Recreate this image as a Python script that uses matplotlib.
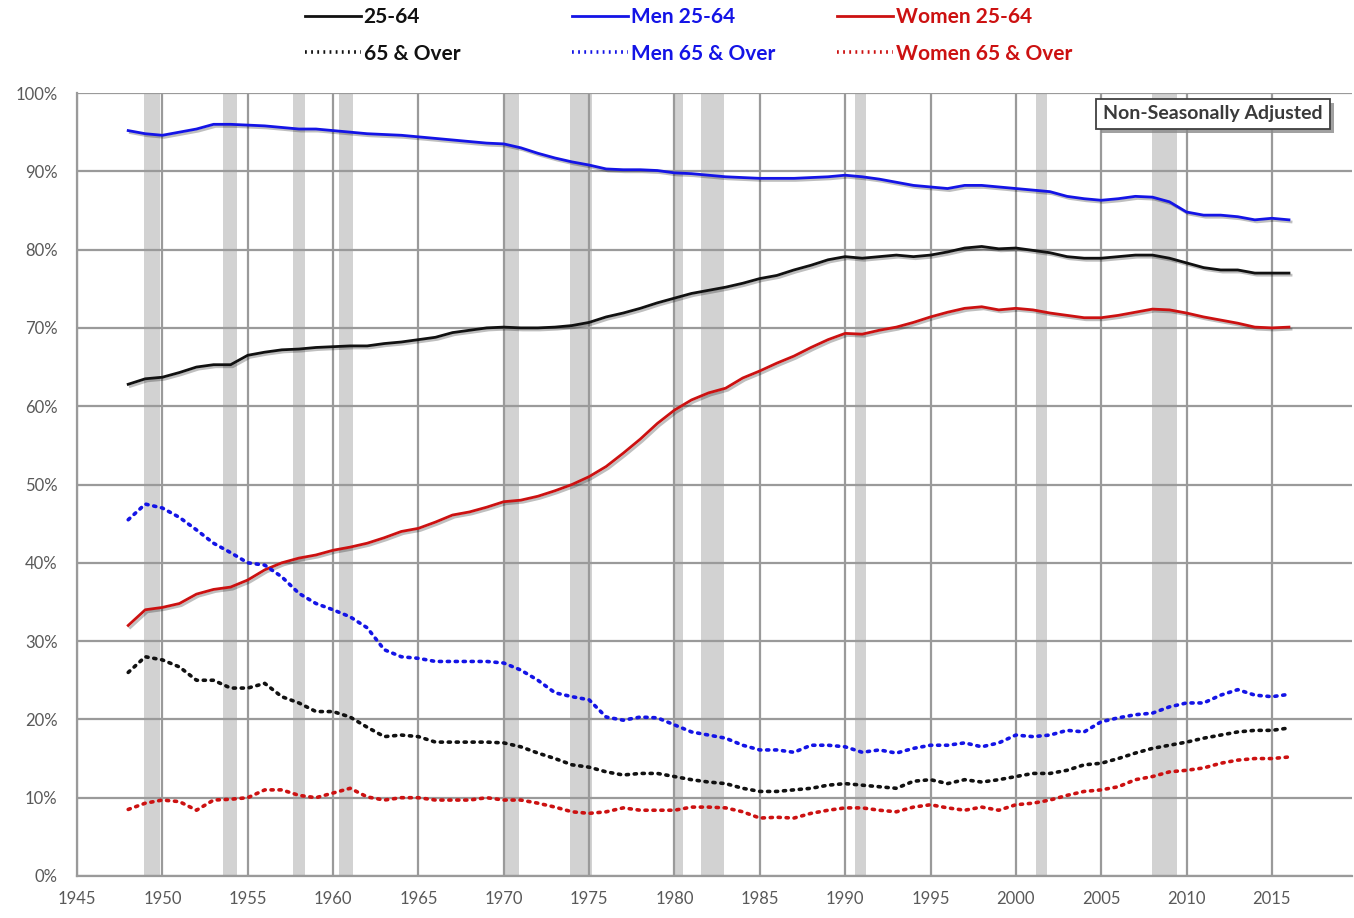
import matplotlib
matplotlib.use("Agg")
import matplotlib.pyplot as plt
import matplotlib.patheffects as pe
from matplotlib.lines import Line2D

plt.rcParams['font.family'] = ['Lato', 'DejaVu Sans']

years = list(range(1948, 2017))

total_25_64 = [62.8, 63.5, 63.7, 64.3, 65.0, 65.3, 65.3, 66.5, 66.9, 67.2,
               67.3, 67.5, 67.6, 67.7, 67.7, 68.0, 68.2, 68.5, 68.8, 69.4,
               69.7, 70.0, 70.1, 70.0, 70.0, 70.1, 70.3, 70.7, 71.4, 71.9,
               72.5, 73.2, 73.8, 74.4, 74.8, 75.2, 75.7, 76.3, 76.7, 77.4,
               78.0, 78.7, 79.1, 78.9, 79.1, 79.3, 79.1, 79.3, 79.7, 80.2,
               80.4, 80.1, 80.2, 79.9, 79.6, 79.1, 78.9, 78.9, 79.1, 79.3,
               79.3, 78.9, 78.3, 77.7, 77.4, 77.4, 77.0, 77.0, 77.0]

men_25_64 = [95.2, 94.8, 94.6, 95.0, 95.4, 96.0, 96.0, 95.9, 95.8, 95.6,
             95.4, 95.4, 95.2, 95.0, 94.8, 94.7, 94.6, 94.4, 94.2, 94.0,
             93.8, 93.6, 93.5, 93.0, 92.3, 91.7, 91.2, 90.8, 90.3, 90.2,
             90.2, 90.1, 89.8, 89.7, 89.5, 89.3, 89.2, 89.1, 89.1, 89.1,
             89.2, 89.3, 89.5, 89.3, 89.0, 88.6, 88.2, 88.0, 87.8, 88.2,
             88.2, 88.0, 87.8, 87.6, 87.4, 86.8, 86.5, 86.3, 86.5, 86.8,
             86.7, 86.1, 84.8, 84.4, 84.4, 84.2, 83.8, 84.0, 83.8]

women_25_64 = [32.0, 34.0, 34.3, 34.8, 36.0, 36.6, 36.9, 37.8, 39.1, 40.0,
               40.6, 41.0, 41.6, 42.0, 42.5, 43.2, 44.0, 44.4, 45.2, 46.1,
               46.5, 47.1, 47.8, 48.0, 48.5, 49.2, 50.0, 51.0, 52.3, 54.0,
               55.8, 57.8, 59.5, 60.8, 61.7, 62.3, 63.6, 64.5, 65.5, 66.4,
               67.5, 68.5, 69.3, 69.2, 69.7, 70.1, 70.7, 71.4, 72.0, 72.5,
               72.7, 72.3, 72.5, 72.3, 71.9, 71.6, 71.3, 71.3, 71.6, 72.0,
               72.4, 72.3, 71.9, 71.4, 71.0, 70.6, 70.1, 70.0, 70.1]

total_65_over = [26.0, 28.0, 27.6, 26.7, 25.0, 25.0, 24.0, 24.0, 24.6, 22.9,
                 22.1, 21.0, 21.0, 20.3, 19.0, 17.8, 18.0, 17.8, 17.1, 17.1,
                 17.1, 17.1, 17.0, 16.5, 15.7, 15.0, 14.2, 13.9, 13.3, 12.9,
                 13.1, 13.1, 12.7, 12.3, 12.0, 11.8, 11.2, 10.8, 10.8, 11.0,
                 11.2, 11.6, 11.8, 11.6, 11.4, 11.2, 12.1, 12.3, 11.8, 12.3,
                 12.0, 12.3, 12.7, 13.1, 13.1, 13.5, 14.2, 14.4, 15.0, 15.7,
                 16.3, 16.7, 17.1, 17.6, 18.0, 18.4, 18.6, 18.6, 18.9]

men_65_over = [45.5, 47.5, 47.0, 45.8, 44.2, 42.5, 41.3, 40.0, 39.7, 38.2,
               36.1, 34.8, 34.0, 33.1, 31.7, 28.9, 28.0, 27.8, 27.4, 27.4,
               27.4, 27.4, 27.2, 26.3, 25.0, 23.4, 22.9, 22.5, 20.3, 19.9,
               20.3, 20.2, 19.3, 18.4, 18.0, 17.6, 16.7, 16.1, 16.1, 15.8,
               16.7, 16.7, 16.5, 15.8, 16.1, 15.7, 16.3, 16.7, 16.7, 17.0,
               16.5, 17.0, 18.0, 17.8, 18.0, 18.6, 18.4, 19.7, 20.2, 20.6,
               20.8, 21.6, 22.1, 22.1, 23.1, 23.8, 23.1, 22.9, 23.2]

women_65_over = [8.5, 9.3, 9.7, 9.5, 8.4, 9.7, 9.8, 10.0, 11.0, 11.0,
                 10.3, 10.0, 10.6, 11.2, 10.1, 9.7, 10.0, 10.0, 9.7, 9.7,
                 9.7, 10.0, 9.7, 9.7, 9.3, 8.8, 8.2, 8.0, 8.2, 8.7,
                 8.4, 8.4, 8.4, 8.8, 8.8, 8.7, 8.2, 7.4, 7.5, 7.4,
                 8.0, 8.4, 8.7, 8.7, 8.4, 8.2, 8.8, 9.1, 8.7, 8.4,
                 8.8, 8.4, 9.1, 9.3, 9.7, 10.3, 10.8, 11.0, 11.4, 12.3,
                 12.7, 13.3, 13.5, 13.8, 14.4, 14.8, 15.0, 15.0, 15.2]

recession_starts = [1948.9, 1953.55, 1957.65, 1960.35, 1969.95, 1973.9, 1980.0, 1981.55, 1990.55, 2001.2, 2007.95]
recession_ends = [1949.85, 1954.4, 1958.35, 1961.15, 1970.9, 1975.15, 1980.5, 1982.9, 1991.2, 2001.85, 2009.45]

x_ticks = list(range(1945, 2016, 5))
y_ticks = list(range(0, 101, 10))
y_tick_labels = [f"{v}%" for v in y_ticks]

labels = ["25-64", "65 & Over", "Men 25-64", "Men 65 & Over", "Women 25-64", "Women 65 & Over"]

BLACK = "#111111"
BLUE = "#1414e6"
RED = "#cc1111"
GRID = "#9a9a9a"
TICK = "#595959"

W, H = 1354, 918
fig = plt.figure(figsize=(W / 100, H / 100), dpi=100)
px_per_year = 17.07
x_right = 1945 + (1352 - 77) / px_per_year
ax = fig.add_axes([77 / W, 1 - 876 / H, (1352 - 77) / W, (876 - 93) / H])
ax.set_xlim(1945, x_right)
ax.set_ylim(0, 100)

for s, e in zip(recession_starts, recession_ends):
    ax.axvspan(s, e, color="#d2d2d2", lw=0, zorder=0.2)

ax.set_xticks(x_ticks)
ax.set_xticklabels([str(v) for v in x_ticks])
ax.set_yticks(y_ticks)
ax.set_yticklabels(y_tick_labels)
ax.grid(True, color=GRID, lw=1.6, zorder=0.5)
ax.set_axisbelow(True)
ax.tick_params(length=0, labelsize=12, colors=TICK)
ax.tick_params(axis="x", pad=11)
ax.tick_params(axis="y", pad=14)
for side in ["top", "right"]:
    ax.spines[side].set_visible(False)
for side in ["left", "bottom"]:
    ax.spines[side].set_color(GRID)
    ax.spines[side].set_linewidth(1.6)

shadow = [pe.SimpleLineShadow(offset=(1.5, -1.5), alpha=0.25, shadow_color="k"), pe.Normal()]
solid_kw = dict(lw=2.0, zorder=3, path_effects=shadow)
dot_kw = dict(lw=2.6, zorder=3, linestyle=(0, (0.6, 1.6)), dash_capstyle="round")

ax.plot(years, men_25_64, color=BLUE, **solid_kw)
ax.plot(years, total_25_64, color=BLACK, **solid_kw)
ax.plot(years, women_25_64, color=RED, **solid_kw)
ax.plot(years, men_65_over, color=BLUE, **dot_kw)
ax.plot(years, total_65_over, color=BLACK, **dot_kw)
ax.plot(years, women_65_over, color=RED, **dot_kw)

# legend: three columns positioned like the original
cols = [(305, BLACK, labels[0], labels[1]),
        (572, BLUE, labels[2], labels[3]),
        (837, RED, labels[4], labels[5])]
for xpix, col, lab_solid, lab_dot in cols:
    handles = [Line2D([], [], color=col, lw=2.0),
               Line2D([], [], color=col, lw=2.6, linestyle=(0, (0.5, 1.2)))]
    leg = fig.legend(handles, [lab_solid, lab_dot], loc="upper left",
                     bbox_to_anchor=(xpix / W, 1 - 7 / H), frameon=False,
                     handlelength=2.7, handletextpad=0.12, labelspacing=0.8,
                     borderpad=0.0, borderaxespad=0.0,
                     prop=dict(family=["Lato", "DejaVu Sans"], weight="bold", size=15))
    for t in leg.get_texts():
        t.set_color(col)

# annotation box with shadow
note = "Non-Seasonally Adjusted"
t = fig.text(1213 / W, 1 - 114 / H, note, ha="center", va="center", fontsize=14,
             weight="bold", color="#3a3a3a",
             bbox=dict(boxstyle="square,pad=0.35", fc="white", ec="#404040", lw=1.3))
t.get_bbox_patch().set_path_effects(
    [pe.SimplePatchShadow(offset=(3, -3), shadow_rgbFace="#8a8a8a", alpha=0.8), pe.Normal()])

fig.savefig("out.png", dpi=100, facecolor="white")
